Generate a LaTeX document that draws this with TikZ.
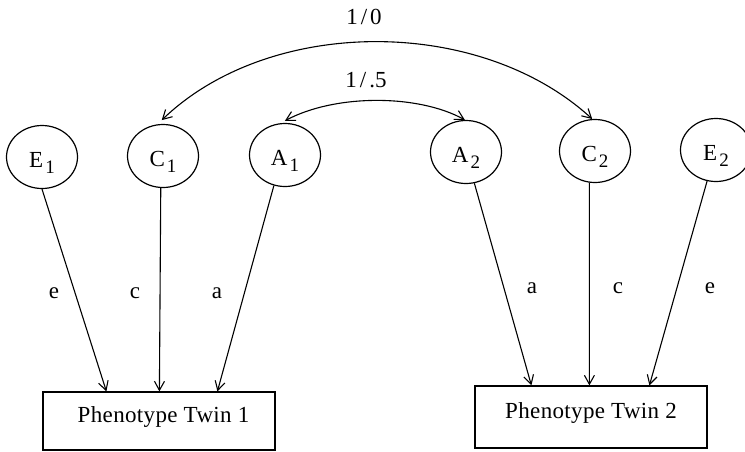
\documentclass[tikz,border=0pt]{standalone}
\usepackage{fontspec}
\setmainfont{Liberation Serif}
\usetikzlibrary{shapes.geometric,arrows.meta}
% latent variable label: letter with a lowered index
\newcommand\latvar[2]{#1\kern2pt\raisebox{-6pt}{\fontsize{19}{19}\selectfont #2}}

\begin{document}
\begin{tikzpicture}[x=1pt,y=-1pt,
  every node/.style={font=\fontsize{23}{26}\selectfont},
  latent/.style={draw, ellipse, line width=1.2pt, minimum width=71pt,
    minimum height=63pt, inner sep=0pt, text height=20pt, text depth=0pt},
  observed/.style={draw, rectangle, line width=1.2pt, minimum width=232pt,
    inner sep=0pt, text height=17pt, text depth=15pt,
    font=\fontsize{23}{26}\selectfont\addfontfeature{LetterSpace=1.5}},
  conn/.style={line width=1.1pt, -{Straight Barb[length=9pt,width=10pt]}},
  corr/.style={line width=1.1pt, {Straight Barb[length=9pt,width=10pt]}-{Straight Barb[length=9pt,width=10pt]}},
  coef/.style={inner sep=0pt}
]
\useasboundingbox (0,0) rectangle (745,451);

% latent factors, twin 1
\node[latent] (E1) at (42,157) {\latvar{E}{1}};
\node[latent] (C1) at (163,156) {\latvar{C}{1}};
\node[latent] (A1) at (285,155) {\latvar{A}{1}};
% latent factors, twin 2
\node[latent] (A2) at (466,152) {\latvar{A}{2}};
\node[latent] (C2) at (595,151) {\latvar{C}{2}};
\node[latent] (E2) at (716,150) {\latvar{E}{2}};

% observed phenotypes
\node[observed, minimum height=58pt] (P1) at (159,421) {\hspace*{9pt}Phenotype Twin 1};
\node[observed, minimum height=62pt] (P2) at (591,417) {Phenotype Twin 2};

% paths, twin 1
\draw[conn] (E1.south) -- ([xshift=64pt]P1.north west);
\draw[conn] (C1.266) -- ([xshift=117pt]P1.north west);
\draw[conn] (A1.250) -- ([xshift=175pt]P1.north west);
% paths, twin 2
\draw[conn] (A2.285) -- ([xshift=57pt]P2.north west);
\draw[conn] (C2.260) -- ([xshift=115pt]P2.north west);
\draw[conn] (E2.254) -- ([xshift=175pt]P2.north west);

% path coefficients
\node[coef] (le1) at (54,293) {e};
\node[coef] (lc1) at (135,293) {c};
\node[coef] (la1) at (217,293) {a};
\node[coef] (la2) at (532,288) {a};
\node[coef] (lc2) at (618,288) {c};
\node[coef] (le2) at (710,288) {e};

% twin correlations
\draw[corr, shorten <=6pt] (C1.100) .. controls (270,16) and (480,16) .. (C2.95);
\draw[corr, shorten <=5pt] (A1.98) .. controls (335,94) and (418,94) .. (A2.92);
\node[coef] (r0) at (364,17) {1\kern3pt/\kern3pt0};
\node[coef] (r5) at (366,80) {1\kern3pt/\kern3pt.5};
\end{tikzpicture}
\end{document}
